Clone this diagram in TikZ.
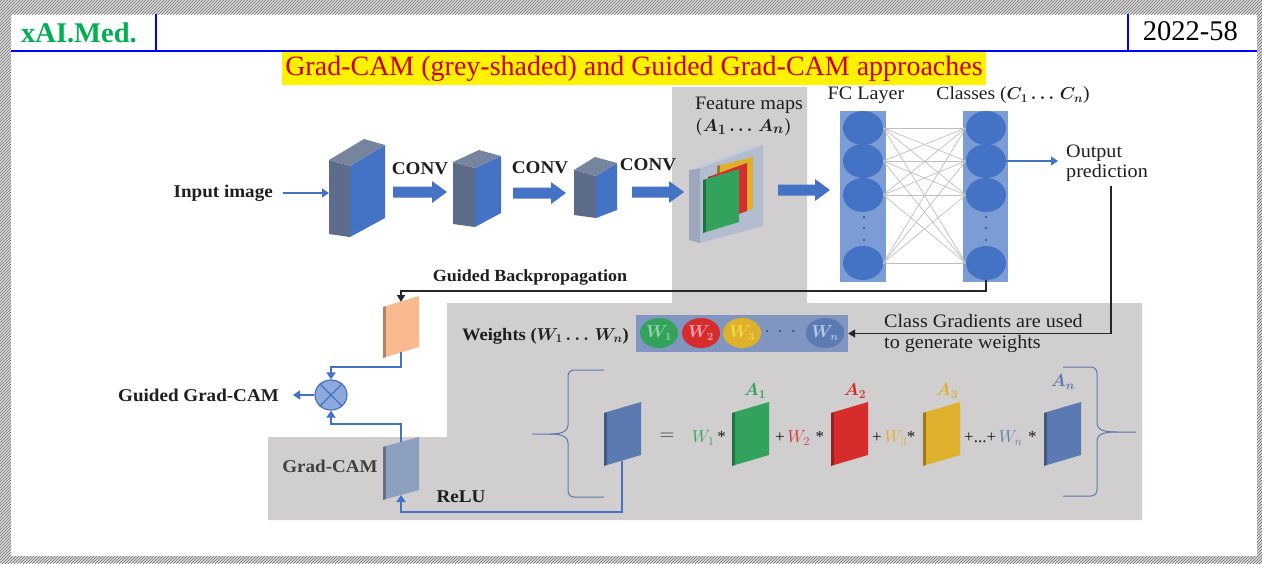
\documentclass[tikz,border=0pt]{standalone}
\usepackage{bm}
\usepackage{fontspec}
\usetikzlibrary{arrows.meta,shapes.geometric,patterns,calc}
\setmainfont{Liberation Serif}
\newfontfamily\labfont[FakeStretch=1.06]{Liberation Serif}

\definecolor{hdrblue}{RGB}{0,0,255}
\definecolor{hdrgreen}{RGB}{0,176,80}
\definecolor{titlered}{RGB}{200,0,0}
\definecolor{greyarea}{RGB}{208,206,206}
\definecolor{netblue}{RGB}{68,114,196}
\definecolor{colblue}{RGB}{124,156,214}
\definecolor{slate}{RGB}{92,108,138}
\definecolor{topface}{RGB}{118,132,160}
\definecolor{wboxblue}{RGB}{128,150,192}
\definecolor{mgreen}{RGB}{50,162,92}
\definecolor{mred}{RGB}{214,44,44}
\definecolor{myellow}{RGB}{222,176,44}
\definecolor{mblue}{RGB}{92,122,178}
\definecolor{morange}{RGB}{248,186,142}
\definecolor{mgrey}{RGB}{142,160,192}
\definecolor{mulfill}{RGB}{142,169,219}
\definecolor{slabfront}{RGB}{178,189,208}
\definecolor{slabside}{RGB}{156,167,188}
\definecolor{slabtop}{RGB}{196,204,218}
\definecolor{txt}{RGB}{30,30,30}

% a thin feature-map sheet: x-left, y-top-left, width, height, rise, colour
\newcommand{\fmap}[6]{%
  \fill[#6!70!black] (#1,#2) -- (#1+3,#2-1) -- (#1+3,#2+#4-1) -- (#1,#2+#4) -- cycle;
  \fill[#6] (#1+3,#2-1) -- (#1+#3,#2-#5) -- (#1+#3,#2-#5+#4) -- (#1+3,#2+#4-1) -- cycle;}

% a thick block arrow: x-start, x-tip, y
\newcommand{\barrow}[3]{%
  \fill[netblue] (#1,#3-5.5) -- (#2-15,#3-5.5) -- (#2-15,#3-11) -- (#2,#3)
    -- (#2-15,#3+11) -- (#2-15,#3+5.5) -- (#1,#3+5.5) -- cycle;}

\begin{document}
\begin{tikzpicture}[x=1pt,y=-1pt,
  lab/.style={font=\labfont\fontsize{19}{20}\selectfont, text=txt, inner sep=0pt},
  blab/.style={font=\labfont\bfseries\fontsize{18}{21}\selectfont, text=txt, inner sep=0pt},
  neuron/.style={ellipse, fill=netblue, minimum width=40pt, minimum height=34pt, inner sep=0pt},
  wcirc/.style={ellipse, minimum width=38pt, minimum height=30pt, inner sep=0pt,
    font=\fontsize{16}{16}\selectfont},
  bluecon/.style={draw=netblue, line width=2pt, -{Triangle[width=9pt,length=7pt]}},
  blackcon/.style={draw=black!85, line width=1.6pt, -{Triangle[width=8pt,length=7pt]}},
  fcline/.style={draw=gray!50, line width=0.7pt},
  hatch/.style={fill=gray!30, postaction={pattern=north east lines, pattern color=black!55}},
  brace/.style={draw=mblue, line width=1pt},
  ftxt/.style={font=\fontsize{17}{17}\selectfont, text=txt, inner sep=0pt, anchor=west},
  alab/.style={font=\fontsize{18}{18}\selectfont, inner sep=0pt},
]
\useasboundingbox (0,0) rectangle (1262,563);

% page frame
\fill[hatch] (0,0) rectangle (1262,14);
\fill[hatch] (0,556) rectangle (1262,563);
\fill[hatch] (0,0) rectangle (11,563);
\fill[hatch] (1257,0) rectangle (1262,563);

% header
\draw[hdrblue, line width=2pt] (11,51) -- (1257,51);
\draw[hdrblue, line width=2pt] (156,14) -- (156,51);
\draw[hdrblue, line width=2pt] (1128,14) -- (1128,51);
\node[font=\bfseries\fontsize{28.5}{30}\selectfont, text=hdrgreen, anchor=base west, inner sep=0pt]
  (brand) at (21,42) {xAI.Med.};
\node[font=\fontsize{28.5}{30}\selectfont, anchor=base east, inner sep=0pt]
  (code) at (1238,40) {2022-58};
\node[fill=yellow, text=titlered, font=\fontsize{28}{30}\selectfont, inner xsep=3pt, inner ysep=0pt,
  minimum height=33pt, anchor=north] (title) at (634,52)
  {Grad-CAM (grey-shaded) and Guided Grad-CAM approaches};

% grey-shaded Grad-CAM region
\fill[greyarea] (268,437) -- (447,437) -- (447,303) -- (672,303) -- (672,87) -- (807,87)
  -- (807,303) -- (1142,303) -- (1142,520) -- (268,520) -- cycle;

% convolution blocks
\fill[slate]   (329,160) -- (350,166) -- (350,237) -- (329,234) -- cycle;
\fill[netblue] (350,166) -- (385,145) -- (385,218) -- (350,237) -- cycle;
\fill[topface] (329,160) -- (364,139) -- (385,145) -- (350,166) -- cycle;
\fill[slate]   (453,162) -- (475,168) -- (475,227) -- (453,224) -- cycle;
\fill[netblue] (475,168) -- (501,156) -- (501,213) -- (475,227) -- cycle;
\fill[topface] (453,162) -- (479,150) -- (501,156) -- (475,168) -- cycle;
\fill[slate]   (574,170) -- (596,176) -- (596,218) -- (574,215) -- cycle;
\fill[netblue] (596,176) -- (617,163) -- (617,210) -- (596,218) -- cycle;
\fill[topface] (574,170) -- (595,157) -- (617,163) -- (596,176) -- cycle;
\coordinate (b1in) at (329,193);

\node[blab, anchor=east] (inp) at (273,193) {Input image};
\draw[bluecon, line width=1.3pt] ([xshift=10pt]inp.east) -- (b1in);

\barrow{393}{447}{192}
\barrow{513}{566}{193}
\barrow{632}{684}{192}
\barrow{778}{830}{190}
\node[blab] (conv1) at (420,169) {CONV};
\node[blab] (conv2) at (540,168) {CONV};
\node[blab] (conv3) at (648,165) {CONV};

% stacked feature maps
\fill[slabside]  (689,170) -- (700,168) -- (700,243) -- (689,240) -- cycle;
\fill[slabfront] (700,168) -- (763,145) -- (763,226) -- (700,243) -- cycle;
\fill[slabtop]   (689,170) -- (752,146) -- (763,145) -- (700,168) -- cycle;
\fmap{717}{166}{36}{52}{9}{myellow}
\fmap{708}{177}{39}{48}{14}{mred}
\fmap{703}{180}{36}{53}{11}{mgreen}
\node[lab] (fmlab) at (749,105) {Feature maps};
\node[lab, anchor=west] (fmset) at (695,127) {$\bm{(A_1\ldots\,A_n)}$};

% fully connected layer and classes
\fill[colblue] (840,111) rectangle (886,282);
\fill[colblue] (963,111) rectangle (1008,282);
\foreach \n/\y in {1/128,2/161,3/195,4/263} {
  \node[neuron] (f\n) at (863,\y) {};
  \node[neuron] (c\n) at (986,\y) {};
}
\foreach \i in {1,...,4} \foreach \j in {1,...,4} \draw[fcline] (f\i.east) -- (c\j.west);
\foreach \y in {217,228,240} {
  \fill[black!70] (864,\y) circle (1.1);
  \fill[black!70] (986,\y) circle (1.1);
}
\node[lab] (fclab) at (866,95) {FC Layer};
\node[lab, font=\labfont\fontsize{18.5}{20}\selectfont] (cllab) at (1013,95) {Classes ($\bm{C_1\ldots\,C_n}$)};

\node[lab, anchor=west, align=left] (outp) at (1066,163) {Output\\prediction};
\draw[bluecon, line width=1.3pt] (c2.east) -- ($(c2.east -| outp.west)+(-8,0)$);

% guided backpropagation path
\coordinate (orgT) at (401,302);
\coordinate (orgB) at (401,352);
\draw[blackcon] (c4.south) -- ++(0,11) -| (orgT);
\node[font=\labfont\bfseries\fontsize{17}{20}\selectfont, text=txt, inner sep=0pt]
  (gbp) at (530,277) {Guided Backpropagation};
\fmap{383}{307}{36}{51}{11}{morange}

% class gradients to weights
\node[fill=wboxblue, minimum width=212pt, minimum height=37pt, inner sep=0pt] (wbox) at (742,333.5) {};
\node[wcirc, fill=mgreen, text={rgb,255:red,150;green,212;blue,165}] (w1) at (659,333) {$\bm{W_1}$};
\node[wcirc, fill=mred, text={rgb,255:red,246;green,165;blue,185}] (w2) at (701,333) {$\bm{W_2}$};
\node[wcirc, fill=myellow, text={rgb,255:red,238;green,222;blue,70}] (w3) at (742,333) {$\bm{W_3}$};
\node[wcirc, fill=mblue, text={rgb,255:red,180;green,198;blue,236}] (wn) at (825,333) {$\bm{W_n}$};
\foreach \x in {767,780,793} \fill[black!80] (\x,331) circle (1);
\node[blab, font=\labfont\bfseries\fontsize{17.5}{20}\selectfont, anchor=east] (wlab) at (629,336)
  {Weights ($\bm{W_1\ldots\,W_n}$)};

\coordinate (gradtop) at (1111,186);
\draw[blackcon] (gradtop) |- (wbox.east);
\node[font=\labfont\fontsize{19}{21}\selectfont, text=txt, inner sep=0pt, anchor=west, align=left]
  (cg) at (884,333) {Class Gradients are used\\to generate weights};

% weighted sum of feature maps
\draw[brace] (604,370) -- (574,370) to[out=180,in=90] (568,376) -- (568,425)
  to[out=270,in=0] (550,434) -- (532,434);
\draw[brace] (550,434) to[out=0,in=90] (568,443) -- (568,491) to[out=270,in=180] (574,497) -- (604,497);
\draw[brace] (1063,367) -- (1091,367) to[out=0,in=90] (1097,373) -- (1097,423)
  to[out=270,in=180] (1117,432) -- (1136,432);
\draw[brace] (1117,432) to[out=180,in=90] (1097,441) -- (1097,490) to[out=270,in=0] (1091,496) -- (1063,496);

\fmap{604}{413}{37}{53}{11}{mblue}
\fmap{732}{413}{37}{53}{11}{mgreen}
\fmap{831}{413}{37}{53}{11}{mred}
\fmap{923}{413}{37}{53}{11}{myellow}
\fmap{1044}{413}{37}{53}{11}{mblue}
\coordinate (resB) at (622,461);
\coordinate (reluturn) at (622,512);

\node[font=\fontsize{20}{20}\selectfont, text=black!75, inner sep=0pt] (eq) at (667,437) {$=$};
\node[ftxt] (s1) at (692,438) {\textcolor{mgreen}{$W_1$}\,*};
\node[ftxt] (s2) at (775,438) {+\,\textcolor{mred}{$W_2$}\,\,*};
\node[ftxt] (s3) at (872,438) {+\,\textcolor{myellow}{$W_3$}*};
\node[ftxt] (s4) at (964,438) {+...+\,\textcolor{mblue}{$W_n$}\,\,*};
\node[alab, text=mgreen] (a1) at (755,391) {$\bm{A_1}$};
\node[alab, text=mred] (a2) at (855,391) {$\bm{A_2}$};
\node[alab, text=myellow] (a3) at (947,391) {$\bm{A_3}$};
\node[alab, text=mblue] (an) at (1063,382) {$\bm{A_n}$};

% Grad-CAM and Guided Grad-CAM
\fmap{383}{447}{36}{53}{10}{mgrey}
\coordinate (gcT) at (401,442);
\coordinate (gcB) at (401,495);
\node[blab, text=black!75] (gclab) at (330,466) {Grad-CAM};
\node[blab] (relu) at (461,497) {ReLU};
\draw[bluecon] (resB) -- (reluturn) -| (gcB);

\node[ellipse, draw=netblue, fill=mulfill, line width=1.2pt, minimum width=32pt, minimum height=30pt,
  inner sep=0pt] (mul) at (331,395) {};
\draw[netblue, line width=1.2pt] (mul.45) -- (mul.225) (mul.135) -- (mul.315);
\draw[bluecon] (orgB) -- ++(0,15) -| (mul.north);
\draw[bluecon] (gcT) -- ++(0,-18) -| (mul.south);
\node[blab, anchor=east] (ggc) at (279,395) {Guided Grad-CAM};
\draw[bluecon, line width=1.5pt] (mul.west) -- ([xshift=14pt]ggc.east);
\end{tikzpicture}
\end{document}
